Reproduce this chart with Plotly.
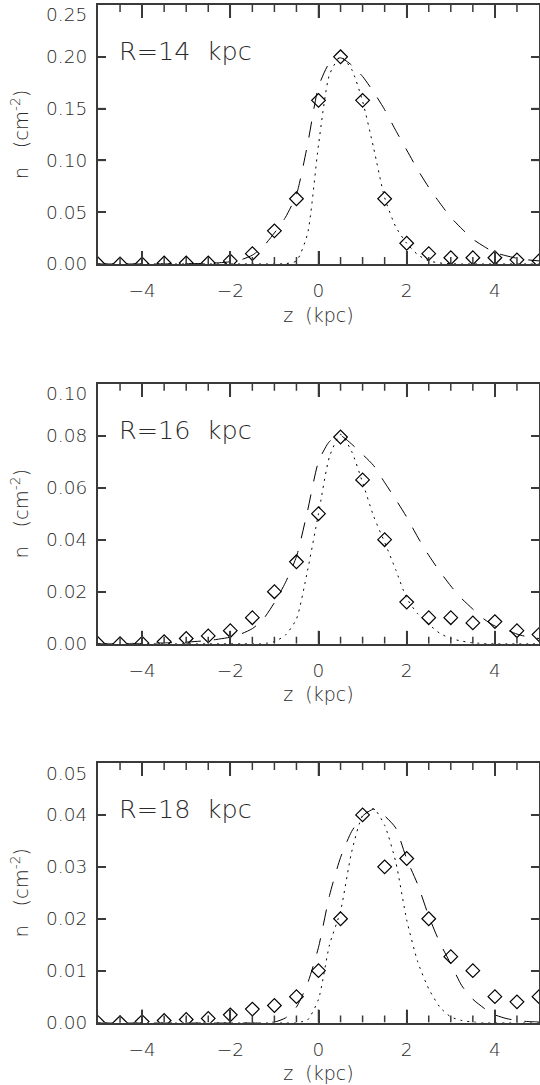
import plotly.graph_objects as go

# ---------------- data ----------------
z_obs = [-5.0, -4.5, -4.0, -3.5, -3.0, -2.5, -2.0, -1.5, -1.0, -0.5, 0.0,
         0.5, 1.0, 1.5, 2.0, 2.5, 3.0, 3.5, 4.0, 4.5, 5.0]

n14_obs = [0.0, 0.0, 0.0, 0.001, 0.001, 0.001, 0.003, 0.010, 0.032, 0.063, 0.158,
           0.200, 0.158, 0.063, 0.020, 0.010, 0.006, 0.006, 0.006, 0.004, 0.003]
n16_obs = [0.0, 0.0, 0.0002, 0.0008, 0.002, 0.003, 0.005, 0.010, 0.020, 0.0315, 0.050,
           0.0795, 0.063, 0.040, 0.016, 0.010, 0.010, 0.008, 0.0085, 0.005, 0.0035]
n18_obs = [0.0, 0.0, 0.0002, 0.0004, 0.0006, 0.0008, 0.0015, 0.0026, 0.0033, 0.005, 0.010,
           0.020, 0.040, 0.030, 0.0316, 0.020, 0.0127, 0.010, 0.005, 0.004, 0.005]

z_model = [-5.0, -4.75, -4.5, -4.25, -4.0, -3.75, -3.5, -3.25, -3.0, -2.75, -2.5,
           -2.25, -2.0, -1.75, -1.5, -1.25, -1.0, -0.75, -0.5, -0.25, 0.0,
           0.25, 0.5, 0.75, 1.0, 1.25, 1.5, 1.75, 2.0, 2.25, 2.5,
           2.75, 3.0, 3.25, 3.5, 3.75, 4.0, 4.25, 4.5, 4.75, 5.0]

n14_dash = [0.0, 0.0, 0.0, 0.0, 0.0, 0.0, 0.0001, 0.0001, 0.0002, 0.0004, 0.0007,
            0.0012, 0.0022, 0.0042, 0.0085, 0.017, 0.030, 0.045, 0.067, 0.115, 0.171,
            0.194, 0.199, 0.192, 0.181, 0.166, 0.149, 0.129, 0.110, 0.091, 0.074,
            0.059, 0.045, 0.034, 0.024, 0.017, 0.011, 0.008, 0.0055, 0.004, 0.003]
n14_dot = [0.0, 0.0, 0.0, 0.0, 0.0, 0.0, 0.0, 0.0, 0.0, 0.0, 0.0,
           0.0, 0.0, 0.0, 0.0, 0.0, 0.0, 0.0003, 0.003, 0.029, 0.115,
           0.183, 0.200, 0.188, 0.157, 0.112, 0.064, 0.036, 0.020, 0.009, 0.003,
           0.001, 0.0002, 0.0, 0.0, 0.0, 0.0, 0.0, 0.0, 0.0, 0.0]

n16_dash = [0.0, 0.0, 0.0, 0.0001, 0.0001, 0.0002, 0.0003, 0.0004, 0.0006, 0.0009, 0.0012,
            0.0018, 0.0025, 0.0038, 0.0058, 0.0095, 0.0158, 0.0235, 0.0335, 0.051, 0.070,
            0.0778, 0.0800, 0.0768, 0.0728, 0.0685, 0.0620, 0.0555, 0.0487, 0.041, 0.034,
            0.0278, 0.0222, 0.0173, 0.0133, 0.0095, 0.0068, 0.0054, 0.0037, 0.0026, 0.002]
n16_dot = [0.0, 0.0, 0.0, 0.0, 0.0, 0.0, 0.0, 0.0, 0.0, 0.0, 0.0,
           0.0, 0.0, 0.0, 0.0, 0.0, 0.0008, 0.0033, 0.0095, 0.028, 0.050,
           0.072, 0.0805, 0.074, 0.062, 0.049, 0.039, 0.0285, 0.0175, 0.0115, 0.0075,
           0.004, 0.002, 0.001, 0.0003, 0.0001, 0.0, 0.0, 0.0, 0.0, 0.0]

n18_dash = [0.0, 0.0, 0.0, 0.0, 0.0, 0.0, 0.0, 0.0, 0.0, 0.0, 0.0,
            0.0, 0.0, 0.0, 0.0, 0.0, 0.0001, 0.0009, 0.003, 0.0075, 0.0145,
            0.0245, 0.0318, 0.0368, 0.0398, 0.0411, 0.0398, 0.0375, 0.0315, 0.0266, 0.0205,
            0.0154, 0.0113, 0.0071, 0.0045, 0.0028, 0.0015, 0.0008, 0.0004, 0.0002, 0.0001]
n18_dot = [0.0, 0.0, 0.0, 0.0, 0.0, 0.0, 0.0, 0.0, 0.0, 0.0, 0.0,
           0.0, 0.0, 0.0, 0.0, 0.0, 0.0, 0.0, 0.0, 0.0005, 0.0045,
           0.015, 0.0215, 0.0328, 0.0398, 0.0412, 0.038, 0.031, 0.0198, 0.0117, 0.0065,
           0.003, 0.0011, 0.0004, 0.0001, 0.0, 0.0, 0.0, 0.0, 0.0, 0.0]

panel_labels = ["R=14  kpc", "R=16  kpc", "R=18  kpc"]
y_ticks = [[0.00, 0.05, 0.10, 0.15, 0.20],
           [0.00, 0.02, 0.04, 0.06, 0.08],
           [0.00, 0.01, 0.02, 0.03, 0.04]]
y_top = [0.25, 0.10, 0.05]          # top of each y axis (its label is drawn just below the frame)
y_top_labels = ["0.25", "0.10", "0.05"]
x_ticks = [-4, -2, 0, 2, 4]
x_minor = [-4.5, -3.5, -3.0, -2.5, -1.5, -1.0, -0.5, 0.5, 1.0, 1.5, 2.5, 3.0, 3.5, 4.5]
x_range = [-5, 5]

obs = [n14_obs, n16_obs, n18_obs]
dash = [n14_dash, n16_dash, n18_dash]
dot = [n14_dot, n16_dot, n18_dot]

# ---------------- layout geometry ----------------
W, H = 540, 1085
x_dom = [98 / W, 539 / W]
panel_px = [(5, 264), (383.7, 643.7), (763, 1022.6)]  # (top, bottom) in px
y_doms = [[1 - b / H, 1 - t / H] for t, b in panel_px]
plot_w_px = (x_dom[1] - x_dom[0]) * W

FONT = "DejaVu Sans"
TXT = "#2a2a2a"
LC = "#3a3a3a"
LW = 2
TW = 1.5
TS = 18.5
MAJ_LEN, MIN_LEN, Y_LEN = 13, 7, 8   # tick lengths in px

fig = go.Figure()
layout = dict(
    width=W, height=H,
    margin=dict(l=0, r=0, t=0, b=0, autoexpand=False),
    paper_bgcolor="white", plot_bgcolor="white",
    showlegend=False,
    font=dict(family=FONT, size=TS, color=TXT, weight=300),
    annotations=[],
)

for i in range(3):
    xa = "x" if i == 0 else f"x{i+1}"
    ya = "y" if i == 0 else f"y{i+1}"
    fig.add_trace(go.Scatter(x=z_model, y=dash[i], mode="lines", xaxis=xa, yaxis=ya,
                             line=dict(color="black", width=1, dash="16px,13px",
                                       shape="spline", smoothing=0.6)))
    fig.add_trace(go.Scatter(x=z_model, y=dot[i], mode="lines", xaxis=xa, yaxis=ya,
                             line=dict(color="black", width=1, dash="2px,5px",
                                       shape="spline", smoothing=0.6)))
    fig.add_trace(go.Scatter(x=z_obs, y=obs[i], mode="markers", xaxis=xa, yaxis=ya,
                             marker=dict(symbol="diamond-open", size=10.5,
                                         color="black", line=dict(width=1.2, color="black"))))

    # tick marks on all four sides of the frame (at the axis tick values)
    top_px, bot_px = panel_px[i]
    y_per_px = y_top[i] / (bot_px - top_px)
    x_per_px = (x_range[1] - x_range[0]) / plot_w_px
    tx, ty = [], []
    for vals, ln in ((x_ticks, MAJ_LEN), (x_minor, MIN_LEN)):
        for v in vals:
            tx += [v, v, None, v, v, None]
            ty += [0, ln * y_per_px, None, y_top[i], y_top[i] - ln * y_per_px, None]
    for v in y_ticks[i][1:]:
        tx += [x_range[0], x_range[0] + Y_LEN * x_per_px, None,
               x_range[1], x_range[1] - Y_LEN * x_per_px, None]
        ty += [v, v, None, v, v, None]
    fig.add_trace(go.Scatter(x=tx, y=ty, mode="lines", xaxis=xa, yaxis=ya,
                             line=dict(color=LC, width=TW), hoverinfo="skip",
                             cliponaxis=False, connectgaps=False))

    xkey = "xaxis" if i == 0 else f"xaxis{i+1}"
    ykey = "yaxis" if i == 0 else f"yaxis{i+1}"
    layout[xkey] = dict(
        domain=x_dom, anchor=ya, range=x_range,
        tickmode="array", tickvals=x_ticks,
        ticks="inside", ticklen=MAJ_LEN, tickwidth=TW, tickcolor=LC,
        showline=True, linecolor=LC, linewidth=LW, mirror="allticks",
        showgrid=False, zeroline=False,
        tickfont=dict(family=FONT, size=TS, color=TXT),
        ticklabelstandoff=9,
        title=dict(text="z  (kpc)", font=dict(family=FONT, size=TS + 0.5, color=TXT), standoff=8),
        automargin=False,
    )
    layout[ykey] = dict(
        domain=y_doms[i], anchor=xa, range=[0, y_top[i]],
        tickmode="array", tickvals=y_ticks[i] + [y_top[i]],
        ticktext=[f"{v:.2f}" for v in y_ticks[i]] + [""],
        ticks="inside", ticklen=Y_LEN, tickwidth=TW, tickcolor=LC,
        showline=True, linecolor=LC, linewidth=LW, mirror="allticks",
        showgrid=False, zeroline=False,
        tickfont=dict(family=FONT, size=TS, color=TXT),
        ticklabelstandoff=5,
        title=dict(text="n   (cm<sup>-2</sup>)", font=dict(family=FONT, size=TS + 1, color=TXT), standoff=12),
        automargin=False,
    )

    # top label of the y axis, drawn just below the frame corner as in the reference
    layout["annotations"].append(dict(
        text=y_top_labels[i], xref="paper", yref=f"{ya} domain",
        x=x_dom[0], y=1, xanchor="right", yanchor="middle",
        xshift=-9, yshift=-10, showarrow=False,
        font=dict(family=FONT, size=TS, color=TXT),
    ))
    layout["annotations"].append(dict(
        text=panel_labels[i], xref=xa, yref=f"{ya} domain",
        x=-4.58, y=1 - 46 / 259, xanchor="left", yanchor="middle",
        showarrow=False, font=dict(family=FONT, size=25.5, color=TXT),
    ))

fig.update_layout(**layout)
fig.write_html("out.html", config={"displayModeBar": False},
               post_script="document.body.style.margin='0';document.body.style.overflow='hidden';")
